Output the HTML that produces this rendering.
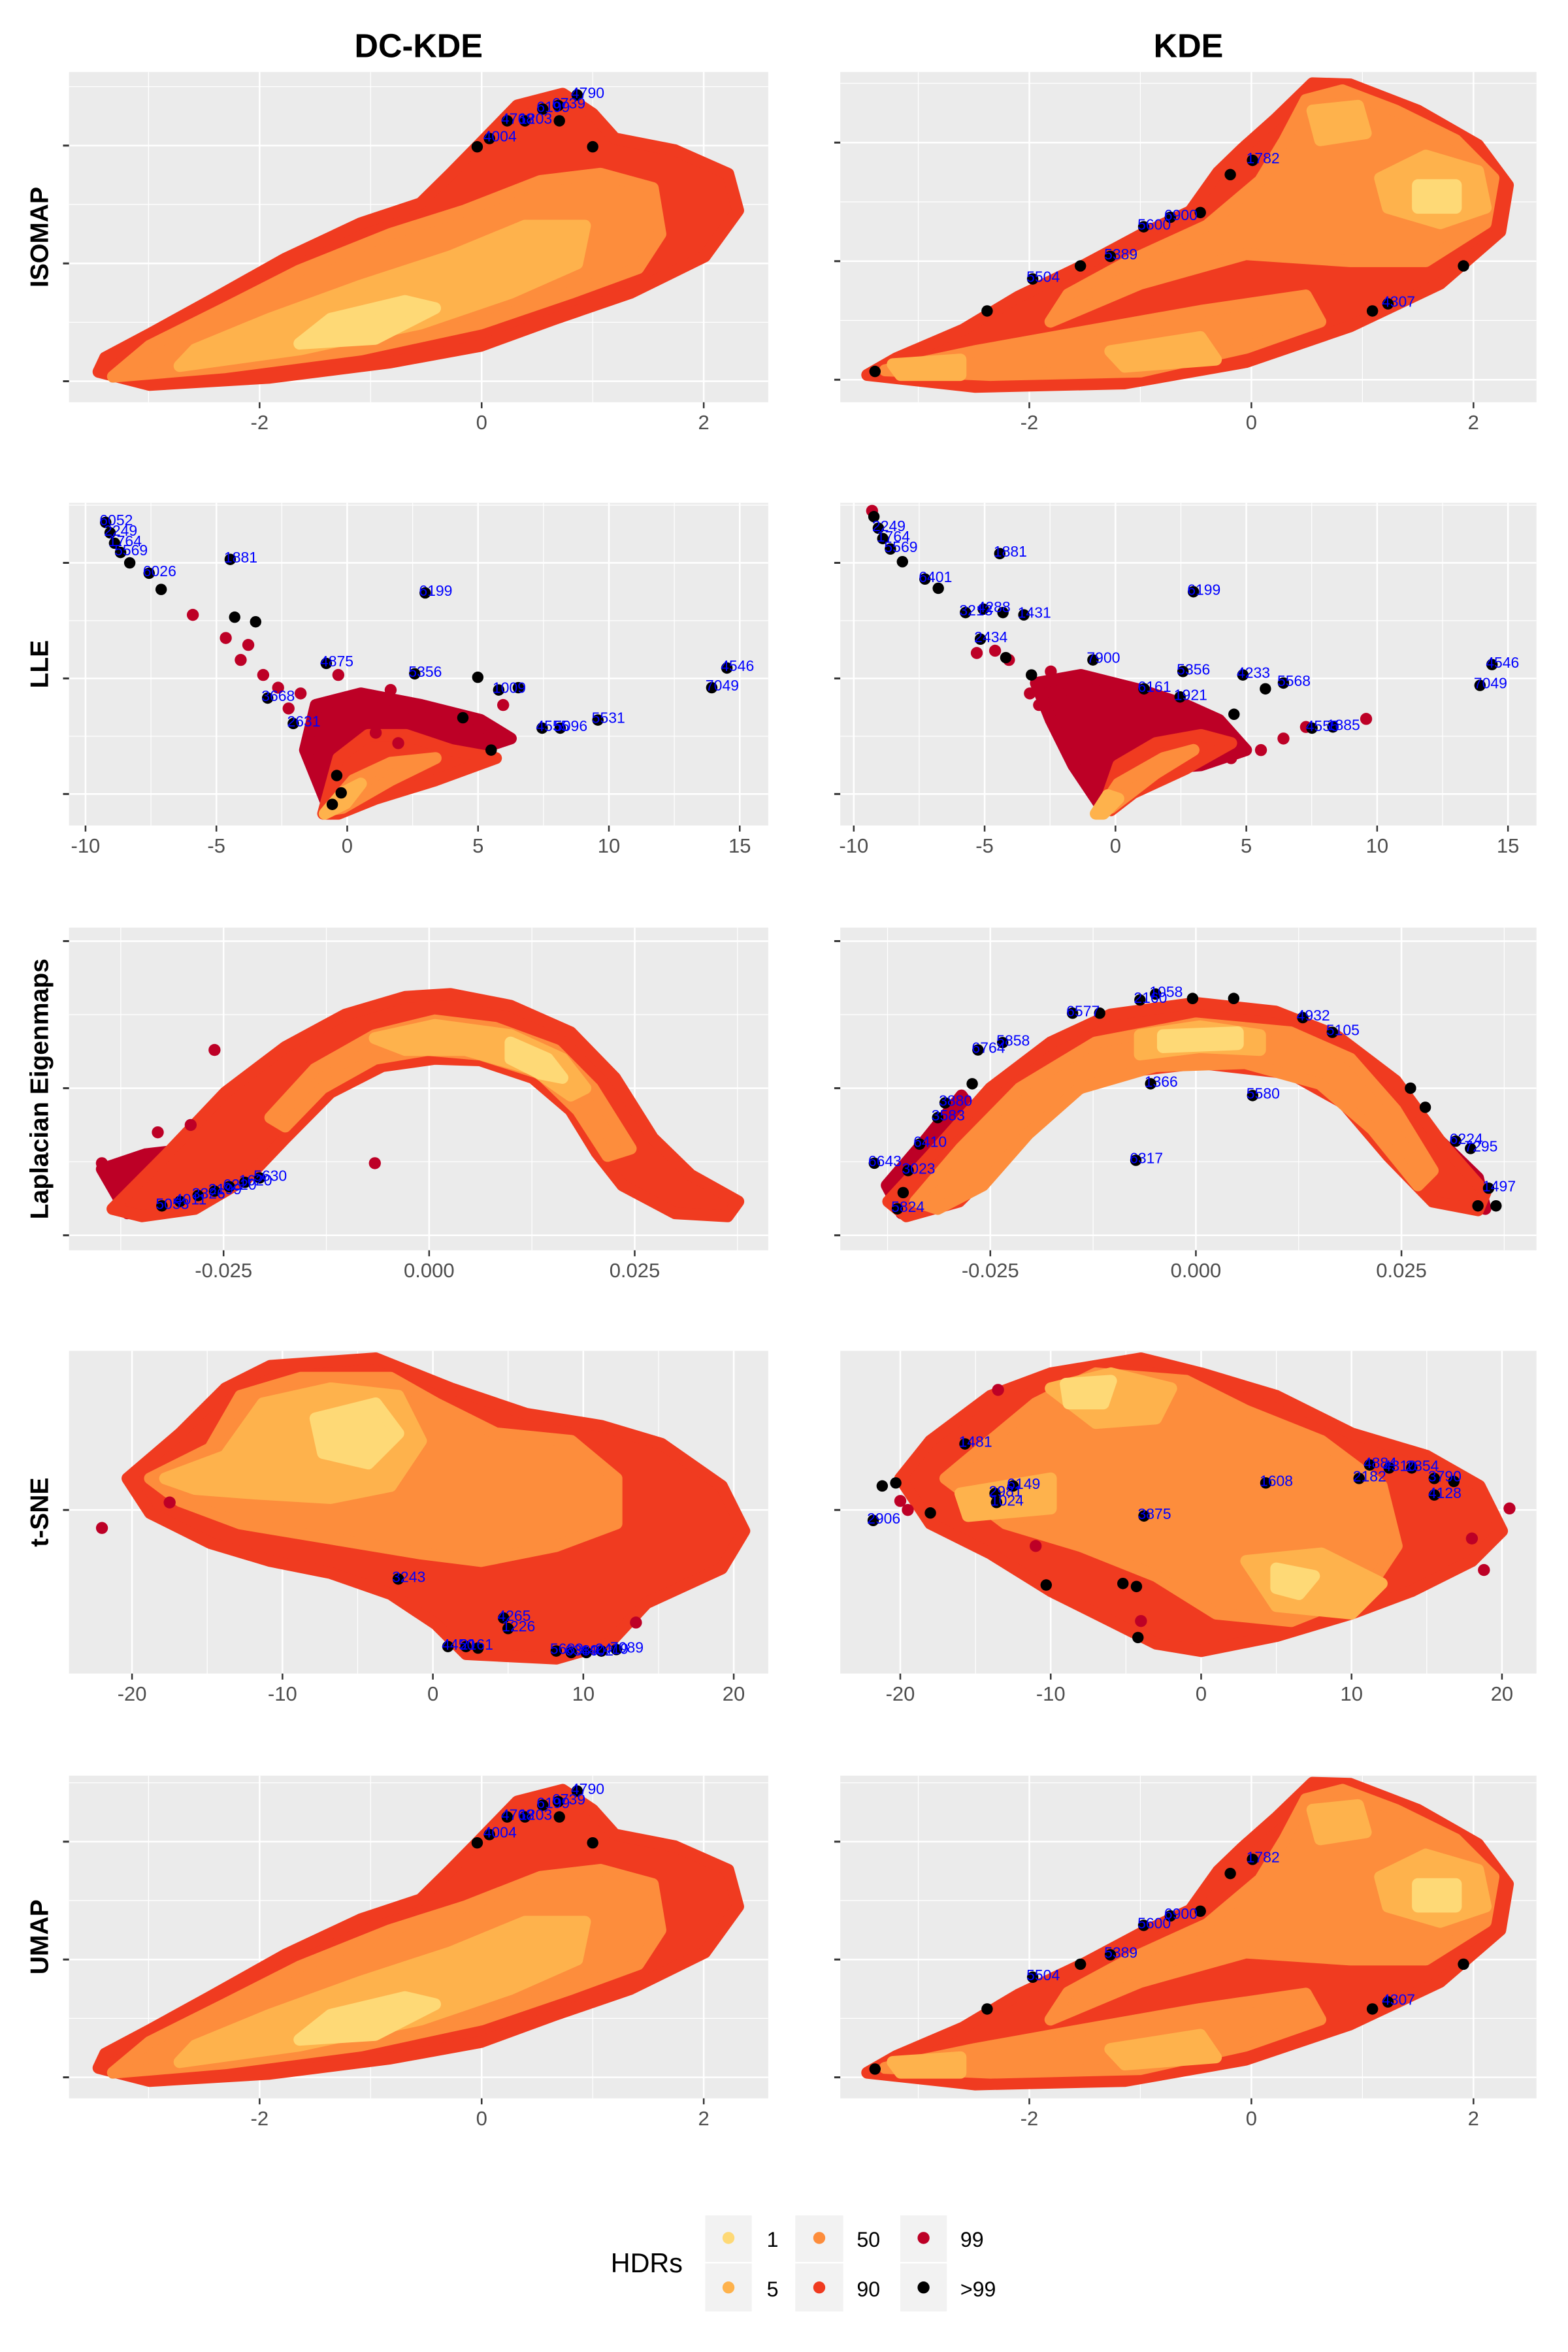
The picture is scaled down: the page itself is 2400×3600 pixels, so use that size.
<!DOCTYPE html>
<html><head><meta charset="utf-8">
<style>
html,body{margin:0;padding:0;background:#fff;}
svg{display:block;font-family:"Liberation Sans",Arial,sans-serif;}
</style></head>
<body>
<svg id="fig" width="2400" height="3600" viewBox="0 0 1045 1567" preserveAspectRatio="none" xmlns="http://www.w3.org/2000/svg">
<rect x="0" y="0" width="1045" height="1567" fill="#ffffff"/>
<text x="279" y="38" font-size="22" font-weight="bold" text-anchor="middle">DC-KDE</text>
<text x="792" y="38" font-size="22" font-weight="bold" text-anchor="middle">KDE</text>
<g id="panels"></g>
<g id="legend">
<text x="407" y="1514" font-size="18">HDRs</text>
<rect x="470" y="1476" width="31" height="31" fill="#F2F2F2"/><rect x="470" y="1508" width="31" height="32" fill="#F2F2F2"/>
<rect x="530" y="1476" width="32" height="31" fill="#F2F2F2"/><rect x="530" y="1508" width="32" height="32" fill="#F2F2F2"/>
<rect x="600" y="1476" width="31" height="31" fill="#F2F2F2"/><rect x="600" y="1508" width="31" height="32" fill="#F2F2F2"/>
<g><circle cx="485.5" cy="1491" r="4" fill="#FED976"/><text x="511" y="1497" font-size="14">1</text></g>
<g><circle cx="485.5" cy="1524" r="4" fill="#FEB24C"/><text x="511" y="1530" font-size="14">5</text></g>
<g><circle cx="546" cy="1491" r="4" fill="#FD8D3C"/><text x="571" y="1497" font-size="14">50</text></g>
<g><circle cx="546" cy="1524" r="4" fill="#F03B20"/><text x="571" y="1530" font-size="14">90</text></g>
<g><circle cx="615.5" cy="1491" r="4" fill="#BD0026"/><text x="640" y="1497" font-size="14">99</text></g>
<g><circle cx="615.5" cy="1524" r="4" fill="#000000"/><text x="640" y="1530" font-size="14">&gt;99</text></g>
</g>
</svg>
<script>
// ===== DATA (data units) =====
// ISOMAP DC-KDE
const isoDc90 = [[-3.45,-0.92],[-2.99,-1.03],[-1.91,-0.97],[-0.82,-0.84],[-0.01,-0.70],[0.66,-0.47],[1.34,-0.25],[2.01,0.06],[2.31,0.45],[2.22,0.76],[1.74,0.96],[1.20,1.06],[1.00,1.27],[0.73,1.44],[0.32,1.34],[-0.04,0.99],[-0.28,0.76],[-0.55,0.51],[-1.09,0.34],[-1.77,0.04],[-2.45,-0.32],[-2.99,-0.60],[-3.39,-0.80]];
const isoDc50 = [[-3.32,-0.96],[-2.31,-0.88],[-1.09,-0.73],[-0.01,-0.51],[0.80,-0.25],[1.41,-0.04],[1.61,0.25],[1.54,0.64],[1.07,0.76],[0.53,0.70],[-0.15,0.45],[-0.82,0.25],[-1.64,-0.06],[-2.31,-0.38],[-2.99,-0.70]];
const isoDc5 = [[-2.72,-0.87],[-1.64,-0.73],[-0.55,-0.51],[0.26,-0.25],[0.86,0.0],[0.93,0.32],[0.39,0.32],[-0.28,0.06],[-1.09,-0.19],[-1.91,-0.47],[-2.58,-0.73]];
const isoDc1 = [[-1.64,-0.68],[-0.96,-0.64],[-0.42,-0.38],[-0.69,-0.32],[-1.36,-0.47]];
const isoDcOut = [[-0.04,0.99],[0.07,1.06],[0.23,1.21],[0.39,1.21],[0.55,1.31],[0.69,1.34],[0.86,1.43],[0.70,1.21],[1.00,0.99]];
const isoDcLabels = ["","4004","4768","1203","6199","6739","4790","",""];
// ISOMAP KDE
const isoK90 = [[-3.46,-0.96],[-2.49,-1.06],[-1.14,-1.03],[-0.05,-0.85],[0.89,-0.55],[1.70,-0.19],[2.24,0.25],[2.31,0.64],[2.04,0.98],[1.50,1.27],[0.89,1.49],[0.55,1.50],[0.22,1.20],[-0.08,0.95],[-0.30,0.75],[-0.55,0.42],[-1.00,0.22],[-1.50,-0.03],[-2.10,-0.30],[-2.60,-0.58],[-3.20,-0.82]];
const isoK50a = [[-3.30,-0.92],[-2.35,-0.96],[-1.0,-0.93],[-0.05,-0.73],[0.62,-0.51],[0.49,-0.29],[-0.46,-0.42],[-1.54,-0.60],[-2.49,-0.76]];
const isoK50b = [[-1.81,-0.51],[-1.0,-0.19],[-0.05,0.06],[0.89,0.0],[1.57,0.0],[2.11,0.32],[2.18,0.70],[1.84,1.02],[1.30,1.27],[0.82,1.44],[0.49,1.36],[0.30,1.02],[0.08,0.68],[-0.40,0.30],[-1.10,0.0],[-1.65,-0.28]];
const isoK5a = [[1.16,0.70],[1.57,0.89],[2.04,0.76],[2.11,0.45],[1.70,0.32],[1.23,0.45]];
const isoK5b = [[0.55,1.27],[0.96,1.31],[1.03,1.08],[0.62,1.02]];
const isoK5c = [[-1.27,-0.76],[-0.46,-0.64],[-0.32,-0.83],[-1.14,-0.89]];
const isoK5d = [[-3.23,-0.87],[-2.62,-0.83],[-2.62,-0.96],[-3.16,-0.96]];
const isoK1 = [[1.50,0.64],[1.84,0.64],[1.84,0.45],[1.50,0.45]];
const isoKOut = [[-3.39,-0.93],[-2.38,-0.42],[-1.97,-0.15],[-1.54,-0.04],[-1.27,0.04],[-0.97,0.29],[-0.73,0.37],[-0.46,0.41],[-0.19,0.73],[0.01,0.85],[1.09,-0.42],[1.23,-0.36],[1.91,-0.04]];
const isoKLabels = ["","","5504","","5389","5600","6900","","","1782","","4307",""];
// LLE DC-KDE
const lleDc99 = [[-1.20,-0.23],[0.52,-0.13],[2.81,-0.23],[5.10,-0.36],[6.25,-0.52],[3.96,-0.69],[1.09,-0.91],[-0.63,-1.17],[-1.61,-0.62]];
const lleDc90 = [[-0.92,-1.17],[-0.34,-0.69],[0.80,-0.49],[2.24,-0.49],[3.96,-0.62],[5.68,-0.69],[3.38,-0.88],[1.09,-1.04],[-0.34,-1.17]];
const lleDc50 = [[-0.75,-1.14],[0.23,-0.88],[1.66,-0.73],[3.38,-0.69],[1.66,-0.88],[-0.17,-1.12]];
const lleDc5 = [[-0.86,-1.17],[-0.17,-0.99],[0.52,-0.91],[-0.06,-1.08]];
const lleDcPts99 = [[-5.9,0.55],[-4.64,0.35],[-4.07,0.16],[-3.78,0.29],[-3.21,0.03],[-2.64,-0.08],[-2.24,-0.26],[-1.78,-0.13],[-1.09,-0.34],[-0.06,-0.17],[0.80,-0.23],[1.66,-0.10],[2.52,-0.34],[3.38,-0.39],[4.07,-0.49],[5.10,-0.52],[5.96,-0.23],[1.09,-0.47],[1.95,-0.56],[-0.34,0.03]];
const lleDcOut = [[-9.23,1.35],[-9.06,1.26],[-8.89,1.17],[-8.66,1.09],[-8.31,1.0],[-7.57,0.91],[-7.11,0.77],[-4.47,1.03],[2.98,0.74],[-4.30,0.53],[-3.50,0.49],[-0.80,0.13],[2.58,0.04],[4.99,0.01],[5.79,-0.10],[6.54,-0.08],[7.45,-0.43],[8.14,-0.43],[9.58,-0.36],[14.51,0.09],[13.93,-0.08],[-3.04,-0.17],[-2.06,-0.39],[4.42,-0.34],[5.50,-0.62],[-0.40,-0.84],[-0.23,-0.99],[-0.57,-1.09]];
const lleDcLabels = ["6052","2249","1764","5569","","6026","","1881","6199","","","4875","5356","","1009","","4555","5096","5531","4546","7049","3668","2631","","","","",""];
// LLE KDE
const lleK99 = [[-3.04,-0.04],[-1.32,0.03],[0.97,-0.10],[2.69,-0.23],[3.96,-0.36],[4.99,-0.62],[3.27,-0.75],[1.55,-0.78],[0.40,-0.91],[-0.46,-1.14],[-1.61,-0.75],[-2.47,-0.36]];
const lleK90 = [[-0.46,-1.12],[0.11,-0.75],[1.55,-0.56],[3.27,-0.49],[4.42,-0.56],[2.69,-0.78],[0.69,-0.99],[-0.17,-1.14]];
const lleK50 = [[-0.57,-1.14],[0.11,-0.91],[1.83,-0.69],[2.98,-0.62],[1.55,-0.82],[-0.17,-1.12]];
const lleK5 = [[-0.75,-1.17],[-0.29,-1.01],[0.11,-1.04],[-0.46,-1.17]];
const lleKPts99 = [[-2.47,0.06],[-3.27,-0.13],[-4.07,0.16],[-1.78,-0.10],[-2.92,-0.23],[4.42,-0.69],[5.56,-0.62],[6.42,-0.52],[7.28,-0.42],[9.58,-0.35],[-9.3,1.45],[-5.3,0.22],[-4.6,0.24]];
const lleKOut = [[-9.23,1.40],[-9.06,1.30],[-8.89,1.21],[-8.60,1.12],[-8.14,1.01],[-7.28,0.86],[-6.77,0.78],[-5.73,0.57],[-5.05,0.60],[-4.30,0.57],[-3.50,0.55],[-4.42,1.08],[-5.16,0.34],[-4.19,0.18],[-3.21,0.03],[-0.86,0.16],[2.98,0.75],[2.58,0.06],[4.87,0.03],[5.73,-0.09],[6.42,-0.04],[1.09,-0.09],[2.47,-0.16],[4.53,-0.31],[7.51,-0.43],[8.31,-0.42],[14.39,0.12],[13.93,-0.06]];
const lleKLabels = ["","2249","1764","5569","","6401","","3213","4288","","1431","1881","2434","","","7900","6199","5356","4233","","5568","6161","1921","","4555","1885","4546","7049"];
// Laplacian DC-KDE
const lapDc99 = [[-0.0398,-0.55],[-0.0345,-0.45],[-0.0300,-0.42],[-0.0320,-0.70],[-0.0367,-0.85]];
const lapDc90 = [[-0.0385,-0.82],[-0.0321,-0.46],[-0.0248,-0.03],[-0.0175,0.28],[-0.0102,0.50],[-0.0029,0.62],[0.0026,0.64],[0.0099,0.56],[0.0172,0.38],[0.0226,0.07],[0.0272,-0.34],[0.0318,-0.59],[0.0376,-0.77],[0.0363,-0.87],[0.0299,-0.85],[0.0235,-0.66],[0.0204,-0.44],[0.0172,-0.15],[0.0126,0.07],[0.0062,0.19],[0.0007,0.20],[-0.0057,0.15],[-0.0120,-0.03],[-0.0175,-0.34],[-0.0221,-0.61],[-0.0285,-0.82],[-0.0349,-0.87]];
const lapDc50 = [[-0.0193,-0.20],[-0.0139,0.13],[-0.0066,0.36],[0.0007,0.46],[0.0080,0.41],[0.0153,0.26],[0.0199,0.0],[0.0245,-0.41],[0.0217,-0.46],[0.0181,-0.15],[0.0135,0.10],[0.0062,0.23],[-0.0002,0.26],[-0.0066,0.20],[-0.0130,0.0],[-0.0175,-0.26]];
const lapDc5 = [[-0.0066,0.34],[0.0007,0.43],[0.0099,0.36],[0.0162,0.20],[0.0190,0.0],[0.0172,-0.05],[0.0126,0.13],[0.0044,0.26],[-0.0029,0.26]];
const lapDc1 = [[0.0099,0.31],[0.0144,0.20],[0.0162,0.07],[0.0135,0.10],[0.0099,0.20]];
const lapDcPts99 = [[-0.0398,-0.51],[-0.0261,0.26],[-0.0066,-0.51],[-0.0330,-0.30],[-0.0290,-0.25]];
const lapDcOut = [[-0.0325,-0.80],[-0.0303,-0.77],[-0.0281,-0.73],[-0.0261,-0.70],[-0.0243,-0.67],[-0.0224,-0.64],[-0.0206,-0.61]];
const lapDcLabels = ["5053","4011","3326","2199","6220","1620","5630"];
// Laplacian KDE
const lapK99a = [[-0.0376,-0.66],[-0.0330,-0.36],[-0.0285,-0.05],[-0.0266,-0.20],[-0.0321,-0.66],[-0.0358,-0.85]];
const lapK99b = [[0.0288,-0.31],[0.0343,-0.61],[0.0352,-0.82],[0.0297,-0.66]];
const lapK90 = [[-0.0374,-0.77],[-0.0323,-0.46],[-0.0250,0.0],[-0.0177,0.31],[-0.0104,0.50],[0.0,0.58],[0.0097,0.52],[0.0170,0.36],[0.0243,0.05],[0.0297,-0.36],[0.0352,-0.71],[0.0343,-0.83],[0.0288,-0.77],[0.0234,-0.46],[0.0179,-0.10],[0.0115,0.10],[0.0005,0.17],[-0.0104,0.10],[-0.0177,-0.10],[-0.0232,-0.46],[-0.0288,-0.77],[-0.0352,-0.87]];
const lapK50 = [[-0.0341,-0.77],[-0.0286,-0.41],[-0.0214,0.0],[-0.0122,0.31],[0.0,0.44],[0.0115,0.38],[0.0188,0.20],[0.0243,-0.15],[0.0288,-0.56],[0.0270,-0.66],[0.0215,-0.28],[0.0151,0.03],[0.0060,0.17],[-0.0049,0.15],[-0.0141,0.0],[-0.0204,-0.31],[-0.0259,-0.66],[-0.0314,-0.82]];
const lapK5 = [[-0.0068,0.36],[0.0005,0.42],[0.0078,0.36],[0.0078,0.26],[0.0005,0.28],[-0.0068,0.23]];
const lapK1 = [[-0.0040,0.36],[0.0051,0.38],[0.0051,0.30],[-0.0040,0.28]];
const lapKOut = [[-0.0363,-0.82],[-0.0356,-0.71],[-0.0391,-0.51],[-0.0350,-0.56],[-0.0336,-0.38],[-0.0314,-0.20],[-0.0305,-0.10],[-0.0272,0.03],[-0.0265,0.26],[-0.0235,0.31],[-0.0150,0.51],[-0.0117,0.51],[-0.0068,0.60],[-0.0049,0.64],[-0.0004,0.61],[0.0046,0.61],[0.0130,0.48],[0.0166,0.38],[-0.0055,0.03],[0.0069,-0.05],[-0.0073,-0.49],[0.0261,0.0],[0.0279,-0.13],[0.0316,-0.36],[0.0334,-0.41],[0.0356,-0.68],[0.0343,-0.80],[0.0365,-0.80]];
const lapKLabels = ["5824","","6643","3023","6410","3583","3880","","6764","5858","6577","","2160","1058","","","4932","5105","1366","5580","6317","","","6224","7295","1497","",""];
// t-SNE DC-KDE
const tsneDc90 = [[-20.3,0.21],[-16.8,0.51],[-13.8,0.81],[-10.8,0.96],[-3.8,1.01],[1.2,0.81],[6.2,0.64],[11.2,0.56],[15.2,0.44],[19.2,0.16],[20.7,-0.14],[19.2,-0.39],[14.2,-0.62],[11.7,-0.89],[8.2,-0.99],[2.2,-0.96],[0.2,-0.76],[-2.8,-0.56],[-6.8,-0.42],[-10.8,-0.34],[-14.8,-0.22],[-18.8,-0.02]];
const tsneDc50 = [[-18.8,0.21],[-14.8,0.41],[-12.8,0.76],[-8.8,0.88],[-2.8,0.88],[0.2,0.71],[4.2,0.51],[9.2,0.46],[12.2,0.21],[12.2,-0.09],[8.2,-0.24],[3.2,-0.34],[-0.8,-0.29],[-6.8,-0.19],[-12.8,-0.09],[-16.8,0.06]];
const tsneDc5 = [[-17.8,0.21],[-13.8,0.36],[-11.3,0.71],[-6.8,0.81],[-2.3,0.76],[-0.8,0.46],[-2.8,0.16],[-6.8,0.08],[-11.8,0.11],[-15.8,0.14]];
const tsneDc1 = [[-7.8,0.61],[-3.8,0.71],[-2.3,0.51],[-4.3,0.31],[-7.3,0.38]];
const tsneDcPts99 = [[-22.0,-0.12],[13.5,-0.75],[-17.5,0.05]];
const tsneDcOut = [[-2.3,-0.46],[4.7,-0.72],[5.0,-0.79],[1.0,-0.91],[2.2,-0.91],[3.0,-0.92],[8.2,-0.94],[9.2,-0.95],[10.2,-0.95],[11.2,-0.94],[12.2,-0.93]];
const tsneDcLabels = ["3243","4265","1226","4450","2161","","5689","6389","4402","2419","7089"];
// t-SNE KDE
const tsneK90 = [[-20.0,0.21],[-18.0,0.46],[-14.0,0.76],[-10.0,0.91],[-4.0,1.01],[0.0,0.91],[5.0,0.76],[10.0,0.51],[15.0,0.36],[18.5,0.16],[20.0,-0.14],[18.0,-0.34],[14.0,-0.54],[10.0,-0.69],[5.0,-0.84],[0.0,-0.94],[-3.0,-0.89],[-6.0,-0.74],[-10.0,-0.54],[-14.0,-0.29],[-18.0,-0.09]];
const tsneK50 = [[-17.0,0.21],[-14.0,0.46],[-11.0,0.71],[-7.0,0.91],[-1.0,0.86],[3.0,0.66],[8.0,0.46],[12.0,0.16],[13.0,-0.24],[11.0,-0.54],[6.0,-0.74],[1.0,-0.69],[-3.0,-0.44],[-8.0,-0.24],[-13.0,-0.09]];
const tsneK5a = [[-10.0,0.81],[-6.0,0.91],[-2.0,0.81],[-3.0,0.61],[-7.0,0.58]];
const tsneK5b = [[3.0,-0.34],[8.0,-0.29],[12.0,-0.49],[10.0,-0.69],[5.0,-0.64]];
const tsneK5c = [[-16.0,0.11],[-10.0,0.21],[-10.0,0.01],[-15.5,-0.04]];
const tsneK1a = [[-9.0,0.84],[-6.0,0.86],[-6.5,0.71],[-8.8,0.71]];
const tsneK1b = [[5.0,-0.39],[7.5,-0.44],[6.5,-0.56],[5.0,-0.52]];
const tsneKPts99 = [[-20.0,0.06],[18.0,-0.19],[20.5,0.01],[-4.0,-0.74],[-11.0,-0.24],[-13.5,0.80],[18.8,-0.40],[-19.5,0.0]];
const tsneKOut = [[-21.8,-0.07],[-20.3,0.18],[-21.2,0.16],[-18.0,-0.02],[-15.7,0.44],[-13.7,0.11],[-13.6,0.05],[-12.5,0.16],[-3.8,-0.04],[4.3,0.18],[10.5,0.21],[11.2,0.30],[12.5,0.28],[14.0,0.28],[15.5,0.21],[16.8,0.19],[15.5,0.10],[-5.2,-0.49],[-4.3,-0.51],[-10.3,-0.50],[-4.2,-0.85]];
const tsneKLabels = ["2906","","","","1481","2981","1024","6149","3875","1608","2182","4884","4310","2854","3790","","4128","","","",""];
// UMAP (same structure as ISOMAP in the reference)
const umapDc90 = isoDc90, umapDc50 = isoDc50, umapDc5 = isoDc5, umapDc1 = isoDc1, umapDcOut = isoDcOut, umapDcLabels = isoDcLabels;
const umapK90 = isoK90, umapK50a = isoK50a, umapK50b = isoK50b, umapK5a = isoK5a, umapK5b = isoK5b, umapK5c = isoK5c, umapK5d = isoK5d, umapK1 = isoK1, umapKOut = isoKOut, umapKLabels = isoKLabels;

// tick labels
const isoXTicks = [-2,0,2];
const lleXTicks = [-10,-5,0,5,10,15];
const lapXTicks = [-0.025,0,0.025];
const lapXTickLabels = ["-0.025","0.000","0.025"];
const tsneXTicks = [-20,-10,0,10,20];

// ===== LAYOUT =====
const C = {c1:'#FED976',c5:'#FEB24C',c50:'#FD8D3C',c90:'#F03B20',c99:'#BD0026',out:'#000000'};
const NS = 'http://www.w3.org/2000/svg';
const root = document.getElementById('panels');
function mk(tag, attrs, parent){const e=document.createElementNS(NS,tag);for(const k in attrs)e.setAttribute(k,attrs[k]);parent.appendChild(e);return e;}

const rows = [
 {key:'isomap', title:'ISOMAP', y0:48, y1:268, xt:isoXTicks, xl:null, xMinor:[-3,-1,1,3], yv:[-1,1], yp:[254,97], yTicks:[-1,0,1], yMinor:[-1.5,-0.5,0.5,1.5], lp:[173,469], rp:[686,982]},
 {key:'lle', title:'LLE', y0:335, y1:550, xt:lleXTicks, xl:null, xMinor:[-12.5,-7.5,-2.5,2.5,7.5,12.5], yv:[-1,1], yp:[529,375], yTicks:[-1,0,1], yMinor:[-1.5,-0.5,0.5,1.5], lp:[57,493], rp:[569,1005]},
 {key:'lap', title:'Laplacian Eigenmaps', y0:618, y1:833, xt:lapXTicks, xl:lapXTickLabels, xMinor:[-0.0375,-0.0125,0.0125,0.0375], yv:[-1,1], yp:[823,627], yTicks:[-1,0,1], yMinor:[-0.5,0.5], lp:[149,423], rp:[660,934]},
 {key:'tsne', title:'t-SNE', y0:900, y1:1115, xt:tsneXTicks, xl:null, xMinor:[-25,-15,-5,5,15,25], yv:[-1,1], yp:[1106,906], yTicks:[0], yMinor:[], lp:[88,489], rp:[600,1001]},
 {key:'umap', title:'UMAP', y0:1183, y1:1398, xt:isoXTicks, xl:null, xMinor:[-3,-1,1,3], yv:[-1,1], yp:[1384,1227], yTicks:[-1,0,1], yMinor:[-1.5,-0.5,0.5,1.5], lp:[173,469], rp:[686,982]}
];
const cols = [{key:'dc', x0:46, x1:512, side:'lp'},{key:'kde', x0:560, x1:1024, side:'rp'}];

const panelData = {
 isomap_dc:{p99:[],p90:[isoDc90],p50:[isoDc50],p5:[isoDc5],p1:[isoDc1],pts99:[],out:isoDcOut,lab:isoDcLabels},
 isomap_kde:{p99:[],p90:[isoK90],p50:[isoK50a,isoK50b],p5:[isoK5a,isoK5b,isoK5c,isoK5d],p1:[isoK1],pts99:[],out:isoKOut,lab:isoKLabels},
 lle_dc:{p99:[lleDc99],p90:[lleDc90],p50:[lleDc50],p5:[lleDc5],p1:[],pts99:lleDcPts99,out:lleDcOut,lab:lleDcLabels},
 lle_kde:{p99:[lleK99],p90:[lleK90],p50:[lleK50],p5:[lleK5],p1:[],pts99:lleKPts99,out:lleKOut,lab:lleKLabels},
 lap_dc:{p99:[lapDc99],p90:[lapDc90],p50:[lapDc50],p5:[lapDc5],p1:[lapDc1],pts99:lapDcPts99,out:lapDcOut,lab:lapDcLabels},
 lap_kde:{p99:[lapK99a,lapK99b],p90:[lapK90],p50:[lapK50],p5:[lapK5],p1:[lapK1],pts99:[],out:lapKOut,lab:lapKLabels},
 tsne_dc:{p99:[],p90:[tsneDc90],p50:[tsneDc50],p5:[tsneDc5],p1:[tsneDc1],pts99:tsneDcPts99,out:tsneDcOut,lab:tsneDcLabels},
 tsne_kde:{p99:[],p90:[tsneK90],p50:[tsneK50],p5:[tsneK5a,tsneK5b,tsneK5c],p1:[tsneK1a,tsneK1b],pts99:tsneKPts99,out:tsneKOut,lab:tsneKLabels},
 umap_dc:{p99:[],p90:[umapDc90],p50:[umapDc50],p5:[umapDc5],p1:[umapDc1],pts99:[],out:umapDcOut,lab:umapDcLabels},
 umap_kde:{p99:[],p90:[umapK90],p50:[umapK50a,umapK50b],p5:[umapK5a,umapK5b,umapK5c,umapK5d],p1:[umapK1],pts99:[],out:umapKOut,lab:umapKLabels}
};

rows.forEach(function(r){
 const rt = mk('text',{x:32,y:(r.y0+r.y1)/2,'font-size':17,'font-weight':'bold','text-anchor':'middle',transform:'rotate(-90 32 '+((r.y0+r.y1)/2)+')'},root);
 
 
 rt.textContent = r.title;
 cols.forEach(function(c){
  const pp = r[c.side];
  const x0v = r.xt[0], x1v = r.xt[r.xt.length-1];
  const sx = v => pp[0] + (v - x0v) * (pp[1]-pp[0]) / (x1v - x0v);
  const yp = c.key==='kde' && r.key==='isomap' ? [253,95] : r.yp;
  const sy = v => yp[0] + (v - r.yv[0]) * (yp[1]-yp[0]) / (r.yv[1]-r.yv[0]);
  const id = r.key+'_'+c.key;
  const g = mk('g',{},root);
  
  
  const cp = mk('clipPath',{id:'clip_'+id},g);
  mk('rect',{x:c.x0,y:r.y0,width:c.x1-c.x0,height:r.y1-r.y0},cp);
  const bg = mk('rect',{x:c.x0,y:r.y0,width:c.x1-c.x0,height:r.y1-r.y0,fill:'#EBEBEB'},g);
  
  
  const grid = mk('g',{'clip-path':'url(#clip_'+id+')'},g);
  r.xMinor.forEach(v=>{const x=sx(v); if(x>c.x0&&x<c.x1) mk('line',{x1:x,x2:x,y1:r.y0,y2:r.y1,stroke:'#fff','stroke-width':0.55},grid);});
  r.yMinor.forEach(v=>{const y=sy(v); if(y>r.y0&&y<r.y1) mk('line',{x1:c.x0,x2:c.x1,y1:y,y2:y,stroke:'#fff','stroke-width':0.55},grid);});
  r.xt.forEach(v=>{const x=sx(v); mk('line',{x1:x,x2:x,y1:r.y0,y2:r.y1,stroke:'#fff','stroke-width':1.1},grid);});
  r.yTicks.forEach(v=>{const y=sy(v); mk('line',{x1:c.x0,x2:c.x1,y1:y,y2:y,stroke:'#fff','stroke-width':1.1},grid);});
  r.xt.forEach((v,i)=>{const x=sx(v);
   mk('line',{x1:x,x2:x,y1:r.y1,y2:r.y1+4,stroke:'#333','stroke-width':1.1},g);
   const t = mk('text',{x:x,y:r.y1+18,'font-size':13.5,fill:'#4D4D4D','text-anchor':'middle'},g);
   
   
   t.textContent = r.xl ? r.xl[i] : String(v);
  });
  r.yTicks.forEach(v=>{const y=sy(v); mk('line',{x1:c.x0-4,x2:c.x0,y1:y,y2:y,stroke:'#333','stroke-width':1.3},g);});
  const d = panelData[id];
  const marks = mk('g',{'clip-path':'url(#clip_'+id+')'},g);
  const poly = (pts,col,name) => {
   const p = mk('path',{d:'M'+pts.map(q=>sx(q[0]).toFixed(1)+','+sy(q[1]).toFixed(1)).join('L')+'Z',fill:col,stroke:col,'stroke-width':8,'stroke-linejoin':'round'},marks);
   
   
  };
  d.p99.forEach(p=>poly(p,C.c99,'hdr-99-region'));
  d.p90.forEach(p=>poly(p,C.c90,'hdr-90-region'));
  d.p50.forEach(p=>poly(p,C.c50,'hdr-50-region'));
  d.p5.forEach(p=>poly(p,C.c5,'hdr-5-region'));
  d.p1.forEach(p=>poly(p,C.c1,'hdr-1-region'));
  d.pts99.forEach(q=>{
   const ci = mk('circle',{cx:sx(q[0]),cy:sy(q[1]),r:4,fill:C.c99},marks);
   
   
  });
  d.out.forEach((q,i)=>{
   const ci = mk('circle',{cx:sx(q[0]),cy:sy(q[1]),r:3.8,fill:C.out},marks);
   
   
  });
  d.out.forEach((q,i)=>{
   if(!d.lab[i]) return;
   const t = mk('text',{x:sx(q[0])+7,y:sy(q[1])+2,'font-size':10,fill:'#0000FF','text-anchor':'middle'},marks);
   
   
   t.textContent = d.lab[i];
  });
 });
});
</script>
</body></html>
